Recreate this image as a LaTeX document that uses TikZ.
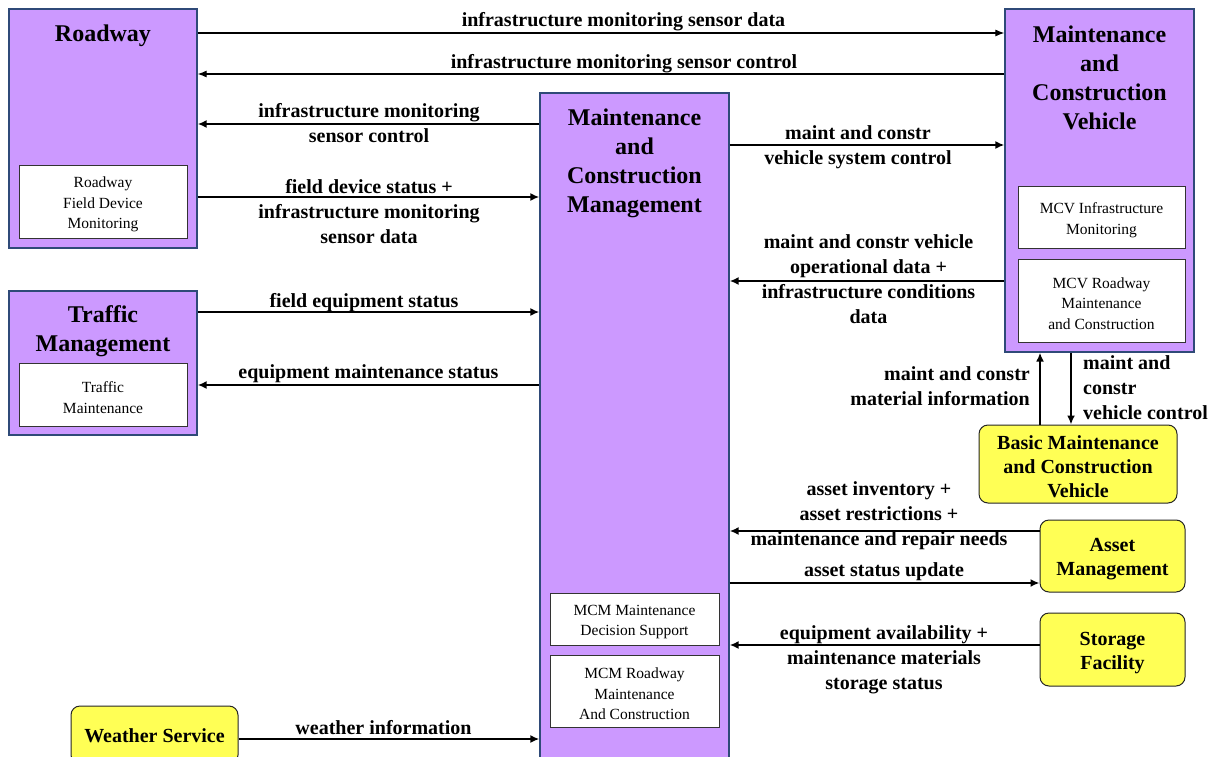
\documentclass[tikz,border=0pt]{standalone}
\usepackage{fontspec}
\setmainfont{Liberation Serif}
\usetikzlibrary{arrows.meta}
\definecolor{elemfill}{HTML}{CC99FF}
\definecolor{elemline}{HTML}{2F4A78}
\definecolor{termfill}{HTML}{FFFF55}
\begin{document}
\begin{tikzpicture}[x=1pt,y=-1pt,
  elem/.style={draw=elemline,line width=1.3pt,fill=elemfill,inner sep=0pt},
  sub/.style={draw=black!80,line width=1pt,fill=white,inner sep=0pt},
  subtext/.style={align=center,inner sep=0pt,font=\fontsize{15.5}{20.5}\selectfont},
  term/.style={draw=black!85,line width=1pt,fill=termfill,rounded corners=9pt,inner sep=0pt},
  termtext/.style={align=center,inner sep=0pt,font=\fontsize{20}{24}\selectfont\bfseries},
  title/.style={align=center,inner sep=0pt,font=\fontsize{24}{29}\selectfont\bfseries},
  lbl/.style={align=center,inner sep=0pt,font=\fontsize{20}{25}\selectfont\bfseries},
  flow/.style={line width=2.2pt,-{Latex[length=9pt,width=8pt]}},
  thinflow/.style={line width=1.1pt,-{Latex[length=9pt,width=7pt]}}]
\useasboundingbox (0,0) rectangle (1228,757);
\clip (0,0) rectangle (1228,757);
\fill[white] (0,0) rectangle (1228,757);

% subsystems
\node[elem,minimum width=188pt,minimum height=239pt] (rw) at (103,128.5) {};
\node[title] (rwt) at (103,36) {Roadway};
\node[sub,minimum width=168pt,minimum height=73pt] (rwfd) at (103,201.5) {};
\node[subtext] (rwfdt) at (103,204.5) {Roadway\\Field Device\\Monitoring};

\node[elem,minimum width=188pt,minimum height=144pt] (tm) at (103,363) {};
\node[title] (tmt) at (103,331.5) {Traffic\\Management};
\node[sub,minimum width=168pt,minimum height=63pt] (tmm) at (103,394.5) {};
\node[subtext] (tmmt) at (103,397.5) {Traffic\\Maintenance};

\node[elem,minimum width=189pt,minimum height=682pt] (mcm) at (634.5,434) {};
\node[title] (mcmt) at (634.5,163.5) {Maintenance\\and\\Construction\\Management};
\node[sub,minimum width=169pt,minimum height=52pt] (mcmds) at (634.5,619) {};
\node[subtext] (mcmdst) at (634.5,622) {MCM Maintenance\\Decision Support};
\node[sub,minimum width=169pt,minimum height=72pt] (mcmrm) at (634.5,691) {};
\node[subtext] (mcmrmt) at (634.5,694) {MCM Roadway\\Maintenance\\And Construction};

\node[elem,minimum width=189pt,minimum height=343pt] (mcv) at (1099.5,180.5) {};
\node[title] (mcvt) at (1099.5,77.5) {Maintenance\\and\\Construction\\Vehicle};
\node[sub,minimum width=167pt,minimum height=62pt] (mcvim) at (1101.5,217) {};
\node[subtext] (mcvimt) at (1101.5,220) {MCV Infrastructure\\Monitoring};
\node[sub,minimum width=167pt,minimum height=83pt] (mcvrm) at (1101.5,300.5) {};
\node[subtext] (mcvrmt) at (1101.5,303.5) {MCV Roadway\\Maintenance\\and Construction};

% terminators
\node[term,minimum width=198pt,minimum height=78pt] (bmcv) at (1078,464) {};
\node[termtext] (bmcvt) at (1078,467) {Basic Maintenance\\and Construction\\Vehicle};
\node[term,minimum width=145pt,minimum height=72pt] (am) at (1112.5,556) {};
\node[termtext] (amt) at (1112.5,559.5) {Asset\\Management};
\node[term,minimum width=145pt,minimum height=73pt] (sf) at (1112.5,649.5) {};
\node[termtext] (sft) at (1112.5,653.5) {Storage\\Facility};
\node[term,minimum width=167pt,minimum height=58pt] (ws) at (154.5,735) {};
\node[termtext] (wst) at (154.5,736) {Weather Service};

% flows
\draw[thinflow] (rw.east |- 0,33) -- (mcv.west |- 0,33);
\node[lbl] (f1) at (623.5,22) {infrastructure monitoring sensor data};
\draw[thinflow] (mcv.west |- 0,74) -- (rw.east |- 0,74);
\node[lbl] (f2) at (624,64) {infrastructure monitoring sensor control};

\draw[flow] (mcm.west |- 0,124) -- (rw.east |- 0,124);
\node[lbl] (f3) at (369,123) {infrastructure monitoring\\sensor control};
\draw[flow] (rw.east |- 0,197) -- (mcm.west |- 0,197);
\node[lbl] (f4) at (369,212) {field device status +\\infrastructure monitoring\\sensor data};

\draw[flow] (tm.east |- 0,312) -- (mcm.west |- 0,312);
\node[lbl] (f5) at (364,303) {field equipment status};
\draw[flow] (mcm.west |- 0,385) -- (tm.east |- 0,385);
\node[lbl] (f6) at (368.5,374) {equipment maintenance status};

\draw[flow] (mcm.east |- 0,145) -- (mcv.west |- 0,145);
\node[lbl] (f7) at (858,147.5) {maint and constr\\vehicle system control};
\draw[flow] (mcv.west |- 0,281) -- (mcm.east |- 0,281);
\node[lbl] (f8) at (868.5,279.5) {maint and constr vehicle\\operational data +\\infrastructure conditions\\data};

\draw[flow] (bmcv.north -| 1040,0) -- (mcv.south -| 1040,0);
\node[lbl,align=right,anchor=east] (f9) at (1030,386.5) {maint and constr\\material information};
\draw[flow] (mcv.south -| 1071,0) -- (bmcv.north -| 1071,0);
\node[lbl,align=left,anchor=west] (f10) at (1083,388) {maint and\\constr\\vehicle control};

\draw[flow] (am.west |- 0,531) -- (mcm.east |- 0,531);
\node[lbl] (f11) at (879,515.5) {asset inventory +\\asset restrictions +\\maintenance and repair needs};
\draw[flow] (mcm.east |- 0,583) -- (am.west |- 0,583);
\node[lbl] (f12) at (884,572) {asset status update};

\draw[flow] (sf.west |- 0,645) -- (mcm.east |- 0,645);
\node[lbl] (f13) at (884,660) {equipment availability +\\maintenance materials\\storage status};

\draw[flow] (ws.east |- 0,739) -- (mcm.west |- 0,739);
\node[lbl] (f14) at (383.5,728) {weather information};
\end{tikzpicture}
\end{document}
